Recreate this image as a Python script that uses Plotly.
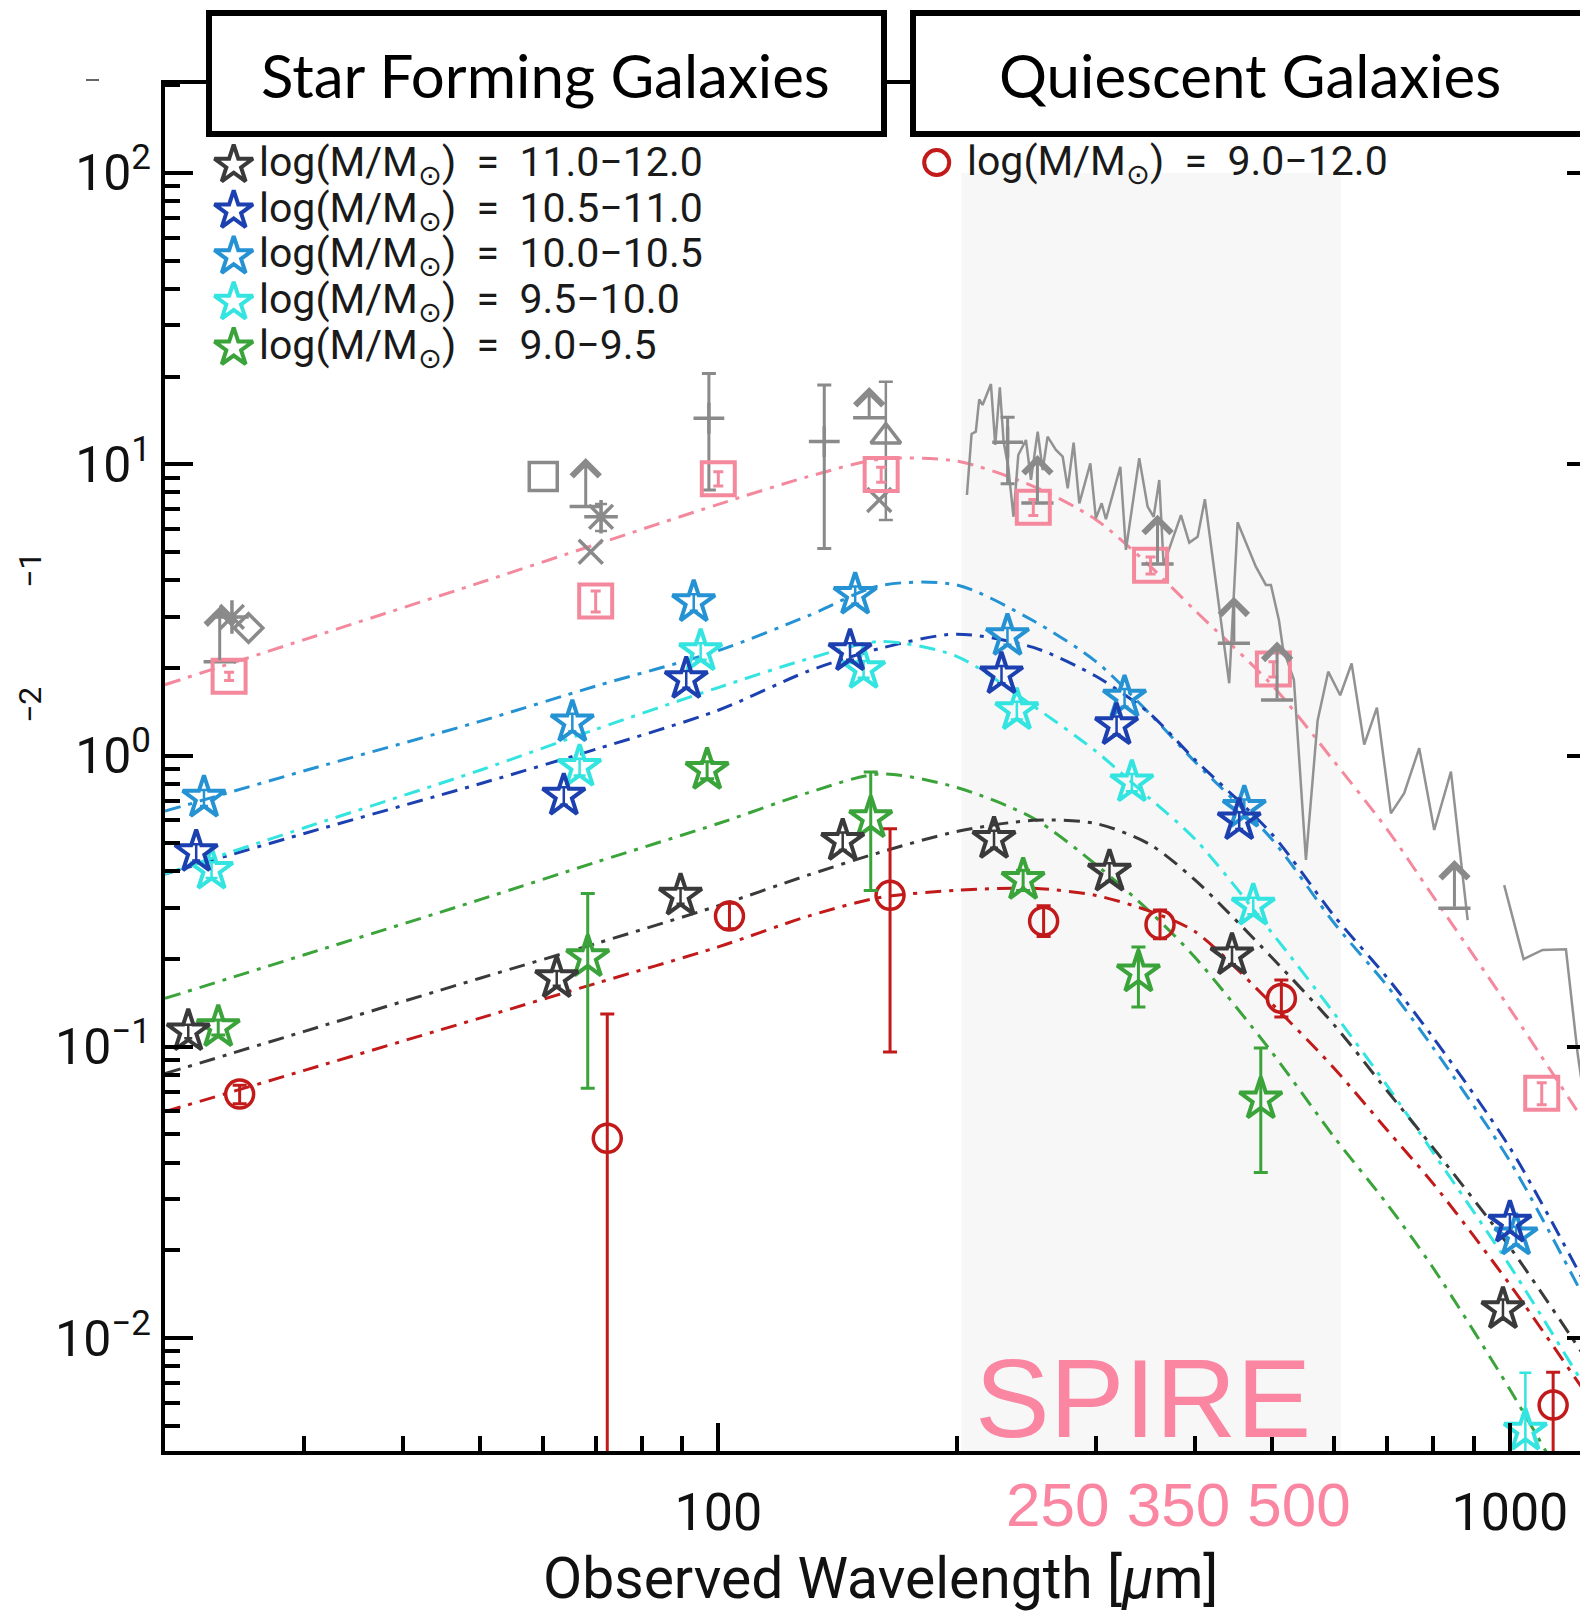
import numpy as np
import plotly.graph_objects as go

# ---------------- data ----------------
wl_model = [20, 30, 50, 70, 100, 130, 160, 200, 250, 300, 350, 400, 500, 600, 700, 800, 1000, 1230]
model_pink = [1.75, 2.50, 3.92, 5.30, 7.28, 9.07, 10.4, 10.25, 8.4, 6.45, 4.50, 3.15, 1.75, 0.952, 0.557, 0.328, 0.135, 0.0575]
model_m110_120 = [0.0809, 0.113, 0.172, 0.226, 0.305, 0.389, 0.465, 0.548, 0.599, 0.584, 0.497, 0.374, 0.203, 0.1187, 0.0705, 0.0450, 0.0205, 0.0090]
model_m105_110 = [0.392, 0.540, 0.800, 1.05, 1.43, 1.95, 2.33, 2.61, 2.35, 1.87, 1.40, 0.968, 0.539, 0.281, 0.1725, 0.1076, 0.0450, 0.0163]
model_m100_105 = [0.644, 0.886, 1.31, 1.73, 2.29, 3.02, 3.83, 3.85, 2.90, 2.10, 1.40, 0.952, 0.517, 0.2655, 0.1616, 0.0992, 0.0405, 0.0144]
model_m95_100 = [0.392, 0.565, 0.890, 1.23, 1.711, 2.149, 2.46, 2.19, 1.478, 1.033, 0.716, 0.517, 0.247, 0.130, 0.0734, 0.0433, 0.0177, 0.00716]
model_m90_95 = [0.1466, 0.207, 0.320, 0.430, 0.584, 0.746, 0.864, 0.777, 0.609, 0.422, 0.293, 0.203, 0.0960, 0.0489, 0.0288, 0.0174, 0.00666, 0.00251]
model_quiescent = [0.0599, 0.083, 0.1255, 0.165, 0.2203, 0.281, 0.3254, 0.3444, 0.350, 0.3308, 0.2927, 0.2487, 0.1407, 0.0843, 0.0517, 0.0339, 0.01527, 0.00682]

# stacked SEDs, star forming galaxies by stellar mass bin
wl_m110_120 = [21.4, 62.5, 89.6, 143.6, 223, 312, 445.6, 980]
flux_m110_120 = [0.113, 0.172, 0.330, 0.509, 0.517, 0.399, 0.206, 0.01256]
err_m110_120 = [0.006, 0.010, 0.02, 0.035, 0.035, 0.028, 0.014, 0.001]

wl_m105_110 = [21.9, 63.8, 91.1, 146.7, 227.9, 318.5, 455, 1000]
flux_m105_110 = [0.466, 0.728, 1.83, 2.28, 1.90, 1.27, 0.599, 0.0249]
err_m105_110 = [0.03, 0.05, 0.12, 0.15, 0.13, 0.09, 0.04, 0.0017]

wl_m100_105 = [22.4, 65.4, 93.1, 148.9, 231.9, 326, 461.8, 1018]
flux_m100_105 = [0.716, 1.30, 3.36, 3.56, 2.57, 1.58, 0.661, 0.0225]
err_m100_105 = [0.045, 0.09, 0.22, 0.24, 0.17, 0.11, 0.045, 0.0016]

wl_m95_100 = [22.9, 66.8, 95.0, 152.6, 238.3, 333, 474, 1046]
flux_m95_100 = [0.405, 0.914, 2.28, 1.98, 1.43, 0.809, 0.305, 0.00481]
errp_m95_100 = [0.025, 0.06, 0.15, 0.13, 0.10, 0.055, 0.02, 0.0028]
errm_m95_100 = [0.025, 0.06, 0.15, 0.13, 0.10, 0.055, 0.02, 0.0047]

wl_m90_95 = [23.35, 68.4, 96.8, 155.8, 242.7, 339.4, 484.5]
flux_m90_95 = [0.1167, 0.203, 0.892, 0.609, 0.374, 0.180, 0.066]
errp_m90_95 = [0.007, 0.133, 0.06, 0.269, 0.03, 0.040, 0.033]
errm_m90_95 = [0.007, 0.131, 0.06, 0.265, 0.03, 0.043, 0.029]

# quiescent galaxies
wl_quiescent = [24.85, 72.4, 103.3, 164.8, 257.6, 361.4, 514.4, 1134]
flux_quiescent = [0.0688, 0.0485, 0.281, 0.331, 0.270, 0.263, 0.1466, 0.00589]
errp_quiescent = [0.005, 0.081, 0.03, 0.230, 0.035, 0.032, 0.023, 0.00174]
errm_quiescent = [0.005, 0.0484, 0.027, 0.235, 0.031, 0.028, 0.02, 0.00585]

# pink squares
wl_pink = [24.1, 70.0, 100, 160.6, 250, 351.6, 502.6, 1097]
flux_pink = [1.87, 3.39, 8.92, 9.22, 7.11, 4.50, 1.98, 0.0693]
err_pink = [0.06, 0.28, 0.5, 0.55, 0.45, 0.3, 0.12, 0.006]

# grey literature points
wl_gsq = [60.1]; flux_gsq = [9.08]
wl_gast = [24.3, 71.1]; flux_gast = [2.99, 6.60]; err_gast = [0.0, 0.7]
wl_gx = [69.0, 159.7]; flux_gx = [5.01, 7.54]
wl_gdia = [25.5]; flux_gdia = [2.74]
wl_gtri = [162.8]; flux_gtri = [12.44]; errp_gtri = [6.76]; errm_gtri = [6.01]
wl_gplus = [97.3, 136.1, 232]; flux_gplus = [14.38, 11.96, 11.9]
errp_gplus = [6.12, 6.74, 2.6]; errm_gplus = [6.22, 6.82, 3.33]
wl_glim = [23.45, 68.0, 155.1, 253, 358.8, 448, 508, 851]
base_glim = [2.10, 7.16, 14.43, 7.36, 4.54, 2.43, 1.55, 0.299]
tip_glim = [3.25, 10.5, 18.4, 10.76, 6.71, 3.51, 2.46, 0.438]

# grey spectrum (two segments)
spec1_wl = [206.1, 208.9, 211.5, 213.6, 215.7, 221.0, 223.8, 226.8, 229.3, 232.4, 236.0, 239.3, 244.7,
            248.3, 253.2, 256.9, 260.6, 267.0, 272.3, 276.3, 281.1, 285.8, 295.1, 299.9, 305.0, 308.8,
            322.0, 327.3, 340.2, 348.6, 354.8, 360.6, 365.2, 384.1, 393.5, 403.2, 411.8, 442.0, 452.9,
            477.6, 491.8, 499.0, 510.7, 516.7, 533.5, 552.5, 571.6, 589.5, 610.4, 631.0, 654.6, 679.2,
            707.4, 735.3, 768.1, 802.4, 842.4, 884.4]
spec1_flux = [7.84, 12.70, 12.93, 16.70, 15.97, 18.85, 11.64, 18.37, 11.95, 9.80, 6.60, 10.75, 12.11,
              8.83, 12.93, 9.55, 12.43, 11.19, 10.61, 8.27, 11.85, 7.34, 10.07, 6.52, 7.34, 6.47,
              9.80, 5.08, 10.48, 7.15, 6.60, 8.83, 4.51, 6.69, 5.38, 5.64, 7.58, 1.77, 6.32,
              4.45, 3.85, 3.85, 2.92, 2.34, 1.82, 0.438, 1.32, 1.94, 1.61, 2.07, 1.09, 1.46,
              0.633, 0.742, 1.06, 0.555, 0.880, 0.272]
spec2_wl = [983.5, 1040.6, 1099.7, 1177.0, 1217.6, 1247.0]
spec2_flux = [0.359, 0.200, 0.215, 0.216, 0.0950, 0.0607]

spire_band = [202.8, 612.0]

# ---------------- styles ----------------
C_BLACK = '#3a3a3a'
C_DBLUE = '#1c40b0'
C_MBLUE = '#2492d3'
C_CYAN = '#33e4e0'
C_GREEN = '#3aa33a'
C_RED = '#c21a1a'
C_PINK = '#f4899d'
C_GRAY = '#8a8a8a'
C_SPIRE = '#fb86a2'
DASHDOT = '16px,8px,4px,8px'
FONT = 'Roboto, DejaVu Sans, sans-serif'

W, H = 1580, 1614
ML, MR, MT, MB = 165, 0, 84, 163
PW, PH = W - ML - MR, H - MT - MB


def px(xf):
    return (xf - ML) / PW


def py(yf):
    return (H - MB - yf) / PH


fig = go.Figure()

# fitted SED curves
for ys, col in [(model_pink, C_PINK), (model_m100_105, C_MBLUE), (model_m105_110, C_DBLUE),
                (model_m95_100, C_CYAN), (model_m90_95, C_GREEN), (model_m110_120, C_BLACK),
                (model_quiescent, C_RED)]:
    fig.add_trace(go.Scatter(x=wl_model, y=ys, mode='lines',
                             line=dict(color=col, width=3, dash=DASHDOT, shape='spline', smoothing=0.8),
                             hoverinfo='skip'))

# grey spectrum
fig.add_trace(go.Scatter(x=spec1_wl + [None] + spec2_wl, y=spec1_flux + [None] + spec2_flux,
                         mode='lines', line=dict(color='#929292', width=2.5), connectgaps=False))


def pts(x, y, sym, size, col, lw, ep=None, em=None, cap=4, eth=2.5):
    kw = {}
    if ep is not None:
        kw['error_y'] = dict(type='data', symmetric=em is None, array=ep,
                             arrayminus=em if em is not None else ep,
                             color=col, thickness=eth, width=cap)
    fig.add_trace(go.Scatter(x=x, y=y, mode='markers',
                             marker=dict(symbol=sym, size=size, color=col, line=dict(width=lw, color=col)),
                             **kw))


# grey literature points
pts(wl_gsq, flux_gsq, 'square-open', 28, C_GRAY, 3.5)
pts(wl_gast, flux_gast, 'asterisk-open', 28, C_GRAY, 3.5, err_gast, cap=6)
pts(wl_gx, flux_gx, 'x-thin-open', 24, C_GRAY, 3.5)
pts(wl_gdia, flux_gdia, 'diamond-open', 22, C_GRAY, 3.5)
pts(wl_gtri, flux_gtri, 'triangle-up-open', 26, C_GRAY, 3.5, errp_gtri, errm_gtri, cap=7)
pts(wl_gplus, flux_gplus, 'cross-thin-open', 22, C_GRAY, 3.5, errp_gplus, errm_gplus, cap=7, eth=3)
pts(wl_glim, base_glim, 'line-ew-open', 23, C_GRAY, 3.5)
for lam, b, t in zip(wl_glim, base_glim, tip_glim):
    fig.add_annotation(x=np.log10(lam), y=np.log10(t), ax=np.log10(lam), ay=np.log10(b),
                       xref='x', yref='y', axref='x', ayref='y', text='', showarrow=True,
                       arrowhead=4, arrowsize=1.8, arrowwidth=3, arrowcolor=C_GRAY, standoff=0)

# stacked measurements
pts(wl_pink, flux_pink, 'square-open', 33, C_PINK, 4, err_pink, cap=5, eth=3)
pts(wl_quiescent, flux_quiescent, 'circle-open', 28, C_RED, 3.5, errp_quiescent, errm_quiescent, cap=7, eth=3)
pts(wl_m90_95, flux_m90_95, 'star-open', 32, C_GREEN, 4, errp_m90_95, errm_m90_95, cap=7, eth=3)
pts(wl_m110_120, flux_m110_120, 'star-open', 32, C_BLACK, 4, err_m110_120, cap=4)
pts(wl_m95_100, flux_m95_100, 'star-open', 32, C_CYAN, 4, errp_m95_100, errm_m95_100, cap=6)
pts(wl_m100_105, flux_m100_105, 'star-open', 32, C_MBLUE, 4, err_m100_105, cap=4)
pts(wl_m105_110, flux_m105_110, 'star-open', 32, C_DBLUE, 4, err_m105_110, cap=4)

# invisible trace so the right-hand mirror tick axis is built
fig.add_trace(go.Scatter(x=[None], y=[None], yaxis='y2', mode='markers', hoverinfo='skip'))

# legend symbols (overlay axes in plot-fraction units)
leg_cols = [C_BLACK, C_DBLUE, C_MBLUE, C_CYAN, C_GREEN]
leg_labels = ['11.0\u221212.0', '10.5\u221211.0', '10.0\u221210.5', '9.5\u221210.0', '9.0\u22129.5']
leg_y = [165, 210.7, 256.4, 302.1, 347.8]
for col, yy in zip(leg_cols, leg_y):
    fig.add_trace(go.Scatter(x=[px(233.7)], y=[py(yy)], xaxis='x2', yaxis='y3', mode='markers',
                             marker=dict(symbol='star-open', size=29, color=col, line=dict(width=4, color=col))))
fig.add_trace(go.Scatter(x=[px(936.7)], y=[py(162.6)], xaxis='x2', yaxis='y3', mode='markers',
                         marker=dict(symbol='circle-open', size=25, color=C_RED, line=dict(width=4, color=C_RED))))

NB = '\u00a0'
for lab, yy in zip(leg_labels, leg_y):
    fig.add_annotation(x=px(257.3), y=py(yy), xref='paper', yref='paper', xanchor='left', yanchor='middle',
                       text='log(M/M<sub>\u2299</sub>)' + NB * 2 + '=' + NB * 2 + lab, showarrow=False,
                       font=dict(family=FONT, size=41, color='#1a1a1a'))
fig.add_annotation(x=px(964.5), y=py(163.5), xref='paper', yref='paper', xanchor='left', yanchor='middle',
                   text='log(M/M<sub>\u2299</sub>)' + NB * 2 + '=' + NB * 2 + '9.0\u221212.0', showarrow=False,
                   font=dict(family=FONT, size=41, color='#1a1a1a'))

# SPIRE band shading
fig.add_shape(type='rect', xref='x', yref='y', x0=spire_band[0], x1=spire_band[1], y0=0.001, y1=100,
              fillcolor='#f7f7f7', line=dict(width=0), layer='below')
fig.add_annotation(x=px(1142.6), y=py(1398), xref='paper', yref='paper', text='SPIRE', showarrow=False,
                   xanchor='center', yanchor='middle',
                   font=dict(family='Liberation Sans, Arial, sans-serif', size=112, color=C_SPIRE))
fig.add_annotation(x=px(1178.6), y=py(1504), xref='paper', yref='paper', text='250 350 500', showarrow=False,
                   xanchor='center', yanchor='middle',
                   font=dict(family='Liberation Sans, Arial, sans-serif', size=62, color=C_SPIRE))

# title boxes
for x0, x1, label, cx in [(209, 884, 'Star Forming Galaxies', 545.6), (913, 1600, 'Quiescent Galaxies', 1250)]:
    fig.add_shape(type='rect', xref='paper', yref='paper', x0=px(x0), x1=px(x1), y0=py(134), y1=py(13),
                  fillcolor='white', line=dict(color='black', width=6), layer='above')
    fig.add_annotation(x=px(cx), y=py(75), xref='paper', yref='paper', text=label, showarrow=False,
                       xanchor='center', yanchor='middle',
                       font=dict(family='Lato, Open Sans, sans-serif', size=60, color='black'))

# axis title
fig.add_annotation(x=px(880), y=py(1578), xref='paper', yref='paper',
                   text='Observed' + NB + 'Wavelength' + NB + '[<i>\u03bc</i>m]', showarrow=False,
                   xanchor='center', yanchor='middle', font=dict(family=FONT, size=57, color='#111111'))

# remnants of the cropped y-axis title
for txt, yy in [('\u22121', 570), ('\u22122', 705)]:
    fig.add_annotation(x=px(30), y=py(yy), xref='paper', yref='paper', text=txt, showarrow=False,
                       textangle=-90, xanchor='center', yanchor='middle',
                       font=dict(family=FONT, size=32, color='#111111'))
fig.add_shape(type='line', xref='paper', yref='paper', x0=px(86), x1=px(99), y0=py(80), y1=py(80),
              line=dict(color='#666666', width=2))

# axes
major_y = [0.01, 0.1, 1, 10, 100]
major_y_text = ['10<sup>\u22122</sup>', '10<sup>\u22121</sup>', '10<sup>0</sup>', '10<sup>1</sup>', '10<sup>2</sup>']
minor_y = [m * 10.0 ** e for e in range(-3, 3) for m in range(2, 10)]
minor_x = [m * 10.0 ** e for e in range(1, 3) for m in range(2, 10)]
y_range = [(755.5 - 1451) / 291.3, (755.5 - 84) / 291.3]

fig.update_layout(
    width=W, height=H, margin=dict(l=ML, r=MR, t=MT, b=MB, pad=0),
    paper_bgcolor='white', plot_bgcolor='white', showlegend=False,
    xaxis=dict(type='log', range=[np.log10(20), np.log10(20) + PW / 791.6], showgrid=False, zeroline=False,
               showline=True, linecolor='black', linewidth=4, mirror=True,
               ticks='inside', ticklen=28, tickwidth=4, tickcolor='black',
               tickmode='array', tickvals=[100, 1000], ticktext=['100', '1000'],
               ticklabelstandoff=13, tickfont=dict(family=FONT, size=52, color='#111111'),
               minor=dict(tickmode='array', tickvals=minor_x, ticks='inside', ticklen=15, tickwidth=4,
                          tickcolor='black', showgrid=False)),
    yaxis=dict(type='log', range=y_range, showgrid=False, zeroline=False,
               showline=True, linecolor='black', linewidth=4, mirror=False,
               ticks='inside', ticklen=28, tickwidth=4, tickcolor='black',
               tickmode='array', tickvals=major_y, ticktext=major_y_text,
               ticklabelstandoff=0, tickfont=dict(family=FONT, size=50, color='#111111'),
               minor=dict(tickmode='array', tickvals=minor_y, ticks='inside', ticklen=15, tickwidth=4,
                          tickcolor='black', showgrid=False)),
    yaxis2=dict(type='log', overlaying='y', side='right', anchor='x',
                range=y_range, showgrid=False, zeroline=False,
                showline=False, ticks='inside', ticklen=13, tickwidth=4, tickcolor='black',
                tickmode='array', tickvals=major_y, showticklabels=False),
    xaxis2=dict(overlaying='x', range=[0, 1], visible=False, anchor='y3'),
    yaxis3=dict(overlaying='y', range=[0, 1], visible=False, anchor='x2'),
)

fig.write_html('out.html')
